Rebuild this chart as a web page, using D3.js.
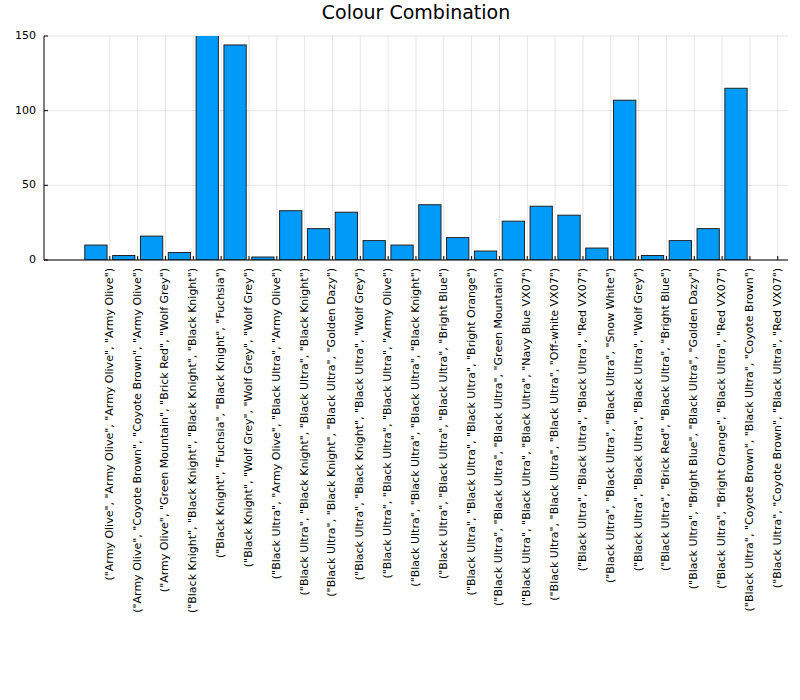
<!DOCTYPE html><html><head><meta charset="utf-8"><script src="https://cdn.jsdelivr.net/npm/d3@7"></script>
<style>body{margin:0;background:#fff}</style></head><body><svg id="c" width="800" height="700"></svg>
<script>
const categories=[
'("Army Olive", "Army Olive", "Army Olive", "Army Olive")',
'("Army Olive", "Coyote Brown", "Coyote Brown", "Army Olive")',
'("Army Olive", "Green Mountain", "Brick Red", "Wolf Grey")',
'("Black Knight", "Black Knight", "Black Knight", "Black Knight")',
'("Black Knight", "Fuchsia", "Black Knight", "Fuchsia")',
'("Black Knight", "Wolf Grey", "Wolf Grey", "Wolf Grey")',
'("Black Ultra", "Army Olive", "Black Ultra", "Army Olive")',
'("Black Ultra", "Black Knight", "Black Ultra", "Black Knight")',
'("Black Ultra", "Black Knight", "Black Ultra", "Golden Dazy")',
'("Black Ultra", "Black Knight", "Black Ultra", "Wolf Grey")',
'("Black Ultra", "Black Ultra", "Black Ultra", "Army Olive")',
'("Black Ultra", "Black Ultra", "Black Ultra", "Black Knight")',
'("Black Ultra", "Black Ultra", "Black Ultra", "Bright Blue")',
'("Black Ultra", "Black Ultra", "Black Ultra", "Bright Orange")',
'("Black Ultra", "Black Ultra", "Black Ultra", "Green Mountain")',
'("Black Ultra", "Black Ultra", "Black Ultra", "Navy Blue VX07")',
'("Black Ultra", "Black Ultra", "Black Ultra", "Off-white VX07")',
'("Black Ultra", "Black Ultra", "Black Ultra", "Red VX07")',
'("Black Ultra", "Black Ultra", "Black Ultra", "Snow White")',
'("Black Ultra", "Black Ultra", "Black Ultra", "Wolf Grey")',
'("Black Ultra", "Brick Red", "Black Ultra", "Bright Blue")',
'("Black Ultra", "Bright Blue", "Black Ultra", "Golden Dazy")',
'("Black Ultra", "Bright Orange", "Black Ultra", "Red VX07")',
'("Black Ultra", "Coyote Brown", "Black Ultra", "Coyote Brown")',
'("Black Ultra", "Coyote Brown", "Black Ultra", "Red VX07")'];
const values=[10,3,16,5,152,144,2,33,21,32,13,10,37,15,6,26,36,30,8,107,3,13,21,115,0];
const yTicks=[0,50,100,150];
const svg=d3.select('#c');
const L=44,R=788,T=36,B=260;
const x=d3.scaleBand().domain(categories).range([82,82+25*27.83]).paddingInner(0.2).paddingOuter(0.1);
const y=d3.scaleLinear().domain([0,150]).range([B,T]);
const tickX=c=>x(c)+x.bandwidth()/2+x.step()/2;
const g=svg.append('g');
g.selectAll('.gy').data(yTicks).join('line').attr('x1',L).attr('x2',R).attr('y1',d=>y(d)).attr('y2',d=>y(d)).attr('stroke','#000').attr('stroke-opacity',0.1);
g.selectAll('.gx').data(categories).join('line').attr('x1',tickX).attr('x2',tickX).attr('y1',T).attr('y2',B).attr('stroke','#000').attr('stroke-opacity',0.1);
svg.append('defs').append('clipPath').attr('id','cp').append('rect').attr('x',L).attr('y',T).attr('width',R-L).attr('height',B-T);
svg.append('g').attr('clip-path','url(#cp)').selectAll('rect').data(values).join('rect')
 .attr('x',(d,i)=>x(categories[i])).attr('width',x.bandwidth())
 .attr('y',d=>y(d)).attr('height',d=>B-y(d)).attr('fill','#009af9').attr('stroke','#222').attr('stroke-width',1);
svg.append('line').attr('x1',L).attr('x2',R).attr('y1',B).attr('y2',B).attr('stroke','#000');
svg.append('line').attr('x1',L).attr('x2',L).attr('y1',T).attr('y2',B).attr('stroke','#000');
svg.selectAll('.yt').data(yTicks).join('text').attr('x',L-8).attr('y',d=>y(d)).attr('text-anchor','end').attr('dominant-baseline','middle').attr('font-family','DejaVu Sans').attr('font-size',11).text(d=>d);
svg.selectAll('.yk').data(yTicks).join('line').attr('x1',L).attr('x2',L+4).attr('y1',d=>y(d)).attr('y2',d=>y(d)).attr('stroke','#000');
svg.selectAll('.xk').data(categories).join('line').attr('x1',tickX).attr('x2',tickX).attr('y1',B).attr('y2',B-4).attr('stroke','#000');
svg.selectAll('.xt').data(categories).join('text').attr('transform',c=>`translate(${tickX(c)},${B+8}) rotate(-90)`).attr('text-anchor','end').attr('dominant-baseline','middle').attr('font-family','DejaVu Sans').attr('font-size',11).text(c=>c);
svg.append('text').attr('x',416).attr('y',19).attr('text-anchor','middle').attr('font-family','DejaVu Sans').attr('font-size',19).text('Colour Combination');
</script></body></html>
